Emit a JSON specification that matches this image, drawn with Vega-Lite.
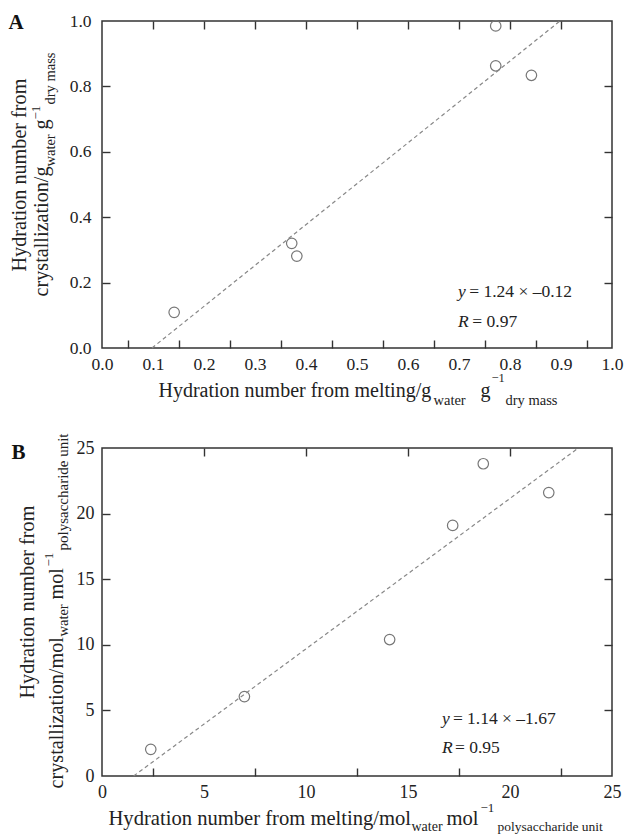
{
  "$schema": "https://vega.github.io/schema/vega-lite/v6.json",
  "padding": {"left": 7, "top": 10, "right": 3, "bottom": 0},
  "spacing": 24,
  "config": {
    "font": "Liberation Serif",
    "view": {"stroke": "#333", "strokeWidth": 1.5},
    "text": {"font": "Liberation Serif", "fontWeight": "normal"},
    "axis": {"labelFont": "Liberation Serif", "titleFont": "Liberation Serif", "labelColor": "#222", "titleColor": "#222", "tickWidth": 1.4, "grid": false, "domain": false, "titleFontWeight": "normal", "labelFontWeight": "normal", "labelFlush": false, "labelOverlap": false, "titleAlign": "left", "titleBaseline": "alphabetic"}
  },
  "vconcat": [
    {
      "width": 510, "height": 327,
      "data": {"values": [
        {"melt": 0.1415, "cryst": 0.109},
        {"melt": 0.372, "cryst": 0.32},
        {"melt": 0.382, "cryst": 0.281},
        {"melt": 0.772, "cryst": 0.985},
        {"melt": 0.772, "cryst": 0.863},
        {"melt": 0.842, "cryst": 0.834}
      ]},
      "resolve": {"axis": {"x": "independent", "y": "independent"}},
      "layer": [
        {
          "mark": {"type": "point", "shape": "circle", "filled": false, "size": 110, "stroke": "#777", "strokeWidth": 1.2, "opacity": 1},
          "encoding": {
            "x": {"field": "melt", "type": "quantitative", "scale": {"domain": [0, 1], "nice": false, "zero": false},
              "axis": {"orient": "bottom", "values": [0,0.1,0.2,0.3,0.4,0.5,0.6,0.7,0.8,0.9,1], "format": ".1f", "ticks": false, "labelPadding": 7, "labelFontSize": 17.5,
                "title": "Hydration number from melting/g", "titleX": 56, "titleY": 48, "titleFontSize": 20, "titleAngle": 0}},
            "y": {"field": "cryst", "type": "quantitative", "scale": {"domain": [0, 1], "nice": false, "zero": false},
              "axis": {"orient": "left", "values": [0, 0.2, 0.4, 0.6, 0.8, 1], "format": ".1f", "ticks": false, "labelPadding": 11, "labelFontSize": 17.5,
                "title": "Hydration number from", "titleX": -77, "titleY": 250, "titleAngle": 270, "titleFontSize": 20.2}}
          }
        },
        {
          "data": {"values": [{"lx": 0.098, "ly": 0}, {"lx": 0.898, "ly": 1}]},
          "mark": {"type": "line", "stroke": "#888", "strokeDash": [4, 3], "strokeWidth": 1.2},
          "encoding": {
            "x": {"field": "lx", "type": "quantitative", "axis": {"orient": "bottom", "values": [0.05,0.15,0.25,0.35,0.45,0.55,0.65,0.75,0.85,0.95], "labels": false, "ticks": true, "tickSize": -8, "tickColor": "#333", "title": null}},
            "y": {"field": "ly", "type": "quantitative", "axis": {"orient": "left", "values": [0.2, 0.4, 0.6, 0.8], "labels": false, "ticks": true, "tickSize": -8, "tickColor": "#333", "title": null}}
          }
        },
        {
          "mark": {"type": "point", "opacity": 0},
          "encoding": {
            "x": {"field": "melt", "type": "quantitative", "axis": {"orient": "top", "values": [0.1,0.2,0.3,0.4,0.5,0.6,0.7,0.8,0.9], "labels": false, "ticks": true, "tickSize": -8, "tickColor": "#333", "title": null}},
            "y": {"field": "cryst", "type": "quantitative", "axis": {"orient": "right", "values": [0.2, 0.4, 0.6, 0.8], "labels": false, "ticks": true, "tickSize": -8, "tickColor": "#333", "title": null}}
          }
        },
        {
          "mark": {"type": "point", "opacity": 0},
          "encoding": {
            "x": {"field": "melt", "type": "quantitative", "axis": {"orient": "bottom", "ticks": false, "labels": false, "title": "water", "titleX": 331, "titleY": 56, "titleFontSize": 14.5, "titleAngle": 0}},
            "y": {"field": "cryst", "type": "quantitative", "axis": {"orient": "left", "ticks": false, "labels": false, "title": "crystallization/g", "titleX": -55, "titleY": 275, "titleAngle": 270, "titleFontSize": 20.2}}
          }
        },
        {
          "mark": {"type": "point", "opacity": 0},
          "encoding": {
            "x": {"field": "melt", "type": "quantitative", "axis": {"orient": "bottom", "ticks": false, "labels": false, "title": "g", "titleX": 378, "titleY": 48, "titleFontSize": 20, "titleAngle": 0}},
            "y": {"field": "cryst", "type": "quantitative", "axis": {"orient": "left", "ticks": false, "labels": false, "title": "water", "titleX": -48, "titleY": 145, "titleAngle": 270, "titleFontSize": 14.5}}
          }
        },
        {
          "mark": {"type": "point", "opacity": 0},
          "encoding": {
            "x": {"field": "melt", "type": "quantitative", "axis": {"orient": "bottom", "ticks": false, "labels": false, "title": "−1", "titleX": 389, "titleY": 33, "titleFontSize": 12.5, "titleAngle": 0}},
            "y": {"field": "cryst", "type": "quantitative", "axis": {"orient": "left", "ticks": false, "labels": false, "title": "g", "titleX": -55, "titleY": 108, "titleAngle": 270, "titleFontSize": 20.2}}
          }
        },
        {
          "mark": {"type": "point", "opacity": 0},
          "encoding": {
            "x": {"field": "melt", "type": "quantitative", "axis": {"orient": "bottom", "ticks": false, "labels": false, "title": "dry mass", "titleX": 403, "titleY": 56, "titleFontSize": 14.5, "titleAngle": 0}},
            "y": {"field": "cryst", "type": "quantitative", "axis": {"orient": "left", "ticks": false, "labels": false, "title": "−1", "titleX": -63, "titleY": 98, "titleAngle": 270, "titleFontSize": 13}}
          }
        },
        {
          "mark": {"type": "point", "opacity": 0},
          "encoding": {
            "x": {"field": "melt", "type": "quantitative", "axis": {"orient": "top", "ticks": false, "labels": false, "title": "A", "titleX": -94, "titleY": 7, "titleFontSize": 21, "titleFontWeight": "bold", "titleAngle": 0, "titleColor": "#111"}},
            "y": {"field": "cryst", "type": "quantitative", "axis": {"orient": "left", "ticks": false, "labels": false, "title": "dry mass", "titleX": -48, "titleY": 83, "titleAngle": 270, "titleFontSize": 14.5}}
          }
        },
        {
          "data": {"values": [{"label": "y"}]},
          "mark": {"type": "text", "font": "Liberation Serif", "fontStyle": "italic", "fontWeight": "normal", "fontSize": 17.5, "align": "left", "baseline": "alphabetic", "color": "#222"},
          "encoding": {"text": {"field": "label"}, "x": {"datum": 0.698, "type": "quantitative", "axis": null}, "y": {"datum": 0.156, "type": "quantitative", "axis": null}}
        },
        {
          "data": {"values": [{"label": "= 1.24 ×  –0.12"}]},
          "mark": {"type": "text", "font": "Liberation Serif", "fontWeight": "normal", "fontSize": 17.5, "align": "left", "baseline": "alphabetic", "color": "#222"},
          "encoding": {"text": {"field": "label"}, "x": {"datum": 0.72, "type": "quantitative", "axis": null}, "y": {"datum": 0.156, "type": "quantitative", "axis": null}}
        },
        {
          "data": {"values": [{"label": "R"}]},
          "mark": {"type": "text", "font": "Liberation Serif", "fontStyle": "italic", "fontWeight": "normal", "fontSize": 17.5, "align": "left", "baseline": "alphabetic", "color": "#222"},
          "encoding": {"text": {"field": "label"}, "x": {"datum": 0.698, "type": "quantitative", "axis": null}, "y": {"datum": 0.064, "type": "quantitative", "axis": null}}
        },
        {
          "data": {"values": [{"label": "= 0.97"}]},
          "mark": {"type": "text", "font": "Liberation Serif", "fontWeight": "normal", "fontSize": 17.5, "align": "left", "baseline": "alphabetic", "color": "#222"},
          "encoding": {"text": {"field": "label"}, "x": {"datum": 0.726, "type": "quantitative", "axis": null}, "y": {"datum": 0.064, "type": "quantitative", "axis": null}}
        }
      ]
    },
    {
      "width": 510, "height": 328,
      "data": {"values": [
        {"melt": 2.39, "cryst": 2.03},
        {"melt": 6.98, "cryst": 6.05},
        {"melt": 14.1, "cryst": 10.4},
        {"melt": 17.19, "cryst": 19.1},
        {"melt": 18.69, "cryst": 23.8},
        {"melt": 21.9, "cryst": 21.6}
      ]},
      "resolve": {"axis": {"x": "independent", "y": "independent"}},
      "layer": [
        {
          "mark": {"type": "point", "shape": "circle", "filled": false, "size": 110, "stroke": "#777", "strokeWidth": 1.2, "opacity": 1},
          "encoding": {
            "x": {"field": "melt", "type": "quantitative", "scale": {"domain": [0, 25], "nice": false, "zero": false},
              "axis": {"orient": "bottom", "values": [0, 5, 10, 15, 20, 25], "format": "d", "ticks": false, "labelPadding": 7, "labelFontSize": 18,
                "title": "Hydration number from melting/mol", "titleX": 6, "titleY": 48, "titleFontSize": 20.6, "titleAngle": 0}},
            "y": {"field": "cryst", "type": "quantitative", "scale": {"domain": [0, 25], "nice": false, "zero": false},
              "axis": {"orient": "left", "values": [0, 5, 10, 15, 20, 25], "format": "d", "ticks": false, "labelPadding": 8, "labelFontSize": 18,
                "title": "Hydration number from", "titleX": -69, "titleY": 250, "titleAngle": 270, "titleFontSize": 20.2}}
          }
        },
        {
          "data": {"values": [{"lx": 1.55, "ly": 0}, {"lx": 23.35, "ly": 25}]},
          "mark": {"type": "line", "stroke": "#888", "strokeDash": [4, 3], "strokeWidth": 1.2},
          "encoding": {
            "x": {"field": "lx", "type": "quantitative", "axis": {"orient": "bottom", "values": [2.5, 7.5, 12.5, 17.5, 22.5], "labels": false, "ticks": true, "tickSize": -8, "tickColor": "#333", "title": null}},
            "y": {"field": "ly", "type": "quantitative", "axis": {"orient": "left", "values": [5, 10, 15, 20], "labels": false, "ticks": true, "tickSize": -8, "tickColor": "#333", "title": null}}
          }
        },
        {
          "mark": {"type": "point", "opacity": 0},
          "encoding": {
            "x": {"field": "melt", "type": "quantitative", "axis": {"orient": "top", "values": [5, 10, 15, 20], "labels": false, "ticks": true, "tickSize": -8, "tickColor": "#333", "title": null}},
            "y": {"field": "cryst", "type": "quantitative", "axis": {"orient": "right", "values": [5, 10, 15, 20], "labels": false, "ticks": true, "tickSize": -8, "tickColor": "#333", "title": null}}
          }
        },
        {
          "mark": {"type": "point", "opacity": 0},
          "encoding": {
            "x": {"field": "melt", "type": "quantitative", "axis": {"orient": "bottom", "ticks": false, "labels": false, "title": "water", "titleX": 309, "titleY": 54, "titleFontSize": 14, "titleAngle": 0}},
            "y": {"field": "cryst", "type": "quantitative", "axis": {"orient": "left", "ticks": false, "labels": false, "title": "crystallization/mol", "titleX": -40, "titleY": 340, "titleAngle": 270, "titleFontSize": 20.2}}
          }
        },
        {
          "mark": {"type": "point", "opacity": 0},
          "encoding": {
            "x": {"field": "melt", "type": "quantitative", "axis": {"orient": "bottom", "ticks": false, "labels": false, "title": "mol", "titleX": 344, "titleY": 48, "titleFontSize": 20.6, "titleAngle": 0}},
            "y": {"field": "cryst", "type": "quantitative", "axis": {"orient": "left", "ticks": false, "labels": false, "title": "water", "titleX": -35, "titleY": 188, "titleAngle": 270, "titleFontSize": 14.5}}
          }
        },
        {
          "mark": {"type": "point", "opacity": 0},
          "encoding": {
            "x": {"field": "melt", "type": "quantitative", "axis": {"orient": "bottom", "ticks": false, "labels": false, "title": "−1", "titleX": 378, "titleY": 35, "titleFontSize": 13, "titleAngle": 0}},
            "y": {"field": "cryst", "type": "quantitative", "axis": {"orient": "left", "ticks": false, "labels": false, "title": "mol", "titleX": -40, "titleY": 151, "titleAngle": 270, "titleFontSize": 20.2}}
          }
        },
        {
          "mark": {"type": "point", "opacity": 0},
          "encoding": {
            "x": {"field": "melt", "type": "quantitative", "axis": {"orient": "bottom", "ticks": false, "labels": false, "title": "polysaccharide unit", "titleX": 395, "titleY": 54, "titleFontSize": 13.5, "titleAngle": 0}},
            "y": {"field": "cryst", "type": "quantitative", "axis": {"orient": "left", "ticks": false, "labels": false, "title": "−1", "titleX": -50, "titleY": 118, "titleAngle": 270, "titleFontSize": 13}}
          }
        },
        {
          "mark": {"type": "point", "opacity": 0},
          "encoding": {
            "x": {"field": "melt", "type": "quantitative", "axis": {"orient": "top", "ticks": false, "labels": false, "title": "B", "titleX": -91, "titleY": 10, "titleFontSize": 21, "titleFontWeight": "bold", "titleAngle": 0, "titleColor": "#111"}},
            "y": {"field": "cryst", "type": "quantitative", "axis": {"orient": "left", "ticks": false, "labels": false, "title": "polysaccharide unit", "titleX": -35, "titleY": 102, "titleAngle": 270, "titleFontSize": 15}}
          }
        },
        {
          "data": {"values": [{"label": "y"}]},
          "mark": {"type": "text", "font": "Liberation Serif", "fontStyle": "italic", "fontWeight": "normal", "fontSize": 17.5, "align": "left", "baseline": "alphabetic", "color": "#222"},
          "encoding": {"text": {"field": "label"}, "x": {"datum": 16.67, "type": "quantitative", "axis": null}, "y": {"datum": 3.96, "type": "quantitative", "axis": null}}
        },
        {
          "data": {"values": [{"label": "= 1.14 ×  –1.67"}]},
          "mark": {"type": "text", "font": "Liberation Serif", "fontWeight": "normal", "fontSize": 17.5, "align": "left", "baseline": "alphabetic", "color": "#222"},
          "encoding": {"text": {"field": "label"}, "x": {"datum": 17.2, "type": "quantitative", "axis": null}, "y": {"datum": 3.96, "type": "quantitative", "axis": null}}
        },
        {
          "data": {"values": [{"label": "R"}]},
          "mark": {"type": "text", "font": "Liberation Serif", "fontStyle": "italic", "fontWeight": "normal", "fontSize": 17.5, "align": "left", "baseline": "alphabetic", "color": "#222"},
          "encoding": {"text": {"field": "label"}, "x": {"datum": 16.67, "type": "quantitative", "axis": null}, "y": {"datum": 1.75, "type": "quantitative", "axis": null}}
        },
        {
          "data": {"values": [{"label": "= 0.95"}]},
          "mark": {"type": "text", "font": "Liberation Serif", "fontWeight": "normal", "fontSize": 17.5, "align": "left", "baseline": "alphabetic", "color": "#222"},
          "encoding": {"text": {"field": "label"}, "x": {"datum": 17.3, "type": "quantitative", "axis": null}, "y": {"datum": 1.75, "type": "quantitative", "axis": null}}
        }
      ]
    }
  ]
}
